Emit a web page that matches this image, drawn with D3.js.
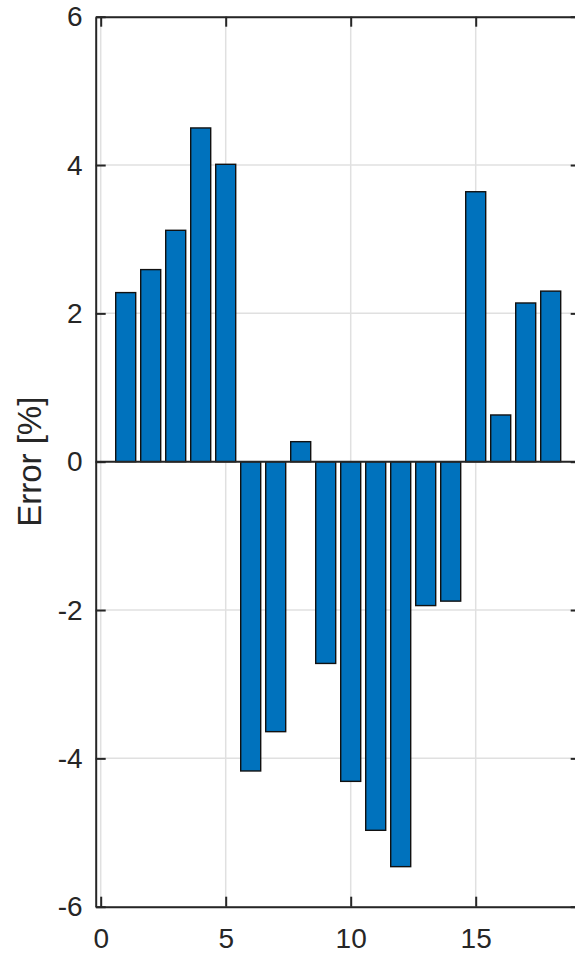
<!DOCTYPE html>
<html>
<head>
<meta charset="utf-8">
<script src="https://cdn.jsdelivr.net/npm/d3@7"></script>
<style>
	html, body { margin: 0; padding: 0; background: #fff; overflow: hidden; }
	svg { display: block; }
</style>
</head>
<body>
<svg id="chart" width="575" height="956"></svg>
<script>
// bar index and error values
var barIndex = [1, 2, 3, 4, 5, 6, 7, 8, 9, 10, 11, 12, 13, 14, 15, 16, 17, 18];
var errorValues = [2.28, 2.59, 3.12, 4.50, 4.01, -4.17, -3.64, 0.27, -2.72, -4.31, -4.97, -5.46, -1.94, -1.88, 3.64, 0.63, 2.14, 2.30];
var xTicks = [0, 5, 10, 15];
var yTicks = [-6, -4, -2, 0, 2, 4, 6];
var xLimits = [-0.2, 19.2];
var yLimits = [-6, 6];
var yAxisLabel = "Error [%]";

var axisColour = "#262626";
var barColour = "#0072BD";
var gridColour = "#e0e0e0";
var fontFamily = "'Liberation Sans', Arial, Helvetica, sans-serif";

var svg = d3.select("#chart");

var x = d3.scaleLinear()
	.domain(xLimits)
	.range([95.7, 580.7]);

var y = d3.scaleLinear()
	.domain(yLimits)
	.range([906.7, 16.7]);

var plotLeft = x.range()[0], plotRight = x.range()[1];
var plotTop = y.range()[1], plotBottom = y.range()[0];
var tickLen = 10;
// matlab style labels: plain hyphen for negatives
var fmt = function(d){ return String(d); };

// grid
var grid = svg.append("g").attr("class", "grid");
grid.selectAll(".gx")
	.data(xTicks)
	.enter().append("line")
		.attr("x1", function(d) { return x(d); })
		.attr("x2", function(d) { return x(d); })
		.attr("y1", plotTop)
		.attr("y2", plotBottom)
		.attr("stroke", gridColour)
		.attr("stroke-width", 1.5);
grid.selectAll(".gy")
	.data(yTicks)
	.enter().append("line")
		.attr("x1", plotLeft)
		.attr("x2", plotRight)
		.attr("y1", function(d) { return y(d); })
		.attr("y2", function(d) { return y(d); })
		.attr("stroke", gridColour)
		.attr("stroke-width", 1.5);

// bars
var barWidth = x(0.8) - x(0);
svg.append("g")
	.attr("class", "bars")
	.selectAll("rect")
	.data(barIndex)
	.enter().append("rect")
		.attr("x", function(d) { return x(d) - barWidth / 2; })
		.attr("width", barWidth)
		.attr("y", function(d, i) { return y(Math.max(0, errorValues[i])); })
		.attr("height", function(d, i) { return Math.abs(y(errorValues[i]) - y(0)); })
		.attr("fill", barColour)
		.attr("stroke", "#111")
		.attr("stroke-width", 1.4);

// baseline
svg.append("line")
	.attr("x1", plotLeft)
	.attr("x2", plotRight)
	.attr("y1", y(0))
	.attr("y2", y(0))
	.attr("stroke", axisColour)
	.attr("stroke-width", 2);

// axes, ticks pointing inward on all four sides
var bottomAxis = d3.axisBottom(x).tickValues(xTicks).tickSizeInner(-tickLen).tickSizeOuter(0).tickPadding(21).tickFormat(fmt);
var topAxis = d3.axisTop(x).tickValues(xTicks).tickSizeInner(-tickLen).tickSizeOuter(0).tickFormat("");
var leftAxis = d3.axisLeft(y).tickValues(yTicks).tickSizeInner(-tickLen).tickSizeOuter(0).tickPadding(13).tickFormat(fmt);
var rightAxis = d3.axisRight(y).tickValues(yTicks).tickSizeInner(-tickLen).tickSizeOuter(0).tickFormat("");

var styleAxis = function(g){
	g.select(".domain").attr("stroke", axisColour).attr("stroke-width", 2);
	g.selectAll(".tick line").attr("stroke", axisColour).attr("stroke-width", 2);
	g.selectAll(".tick text")
		.attr("fill", axisColour)
		.attr("font-family", fontFamily)
		.attr("font-size", 28);
};

svg.append("g").attr("transform", "translate(0," + plotBottom + ")").call(bottomAxis).call(styleAxis);
svg.append("g").attr("transform", "translate(0," + plotTop + ")").call(topAxis).call(styleAxis);
svg.append("g").attr("transform", "translate(" + plotLeft + ",0)").call(leftAxis).call(styleAxis);
svg.append("g").attr("transform", "translate(" + plotRight + ",0)").call(rightAxis).call(styleAxis);

// y label
svg.append("text")
	.attr("transform", "translate(41," + ((plotTop + plotBottom) / 2) + ") rotate(-90)")
	.attr("text-anchor", "middle")
	.attr("fill", axisColour)
	.attr("font-family", fontFamily)
	.attr("font-size", 33)
	.text(yAxisLabel);
</script>
</body>
</html>
